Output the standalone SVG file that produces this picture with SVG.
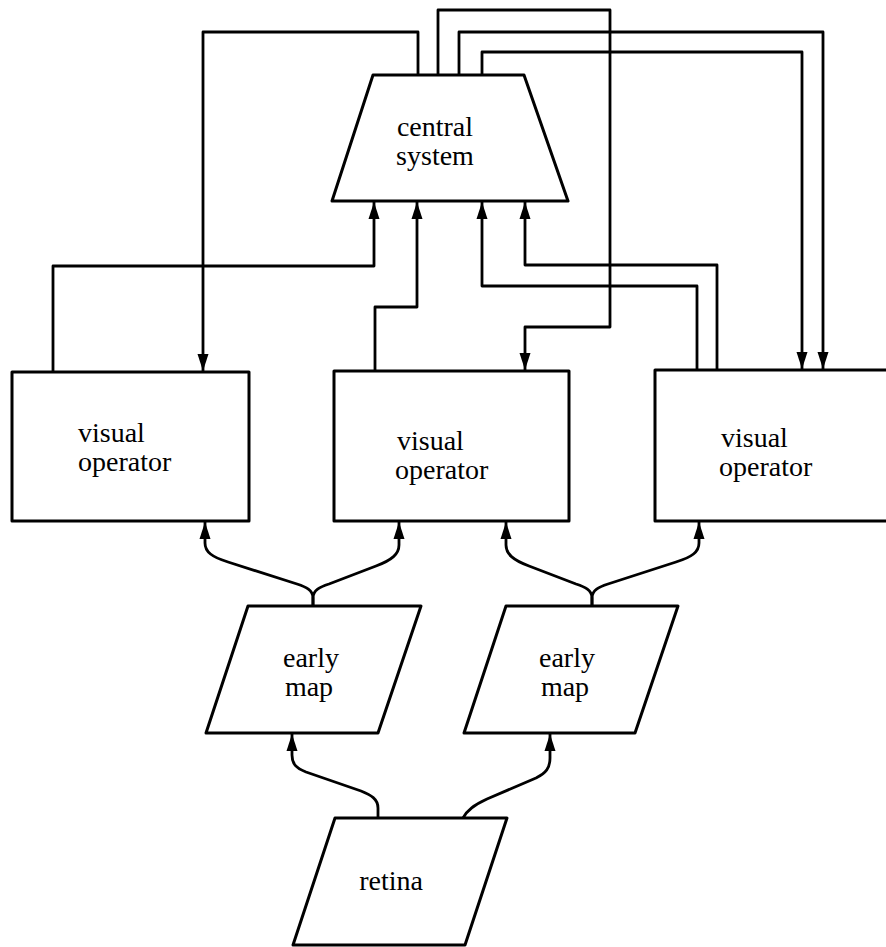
<svg xmlns="http://www.w3.org/2000/svg" width="886" height="947" viewBox="0 0 886 947">
<style>
.shape{fill:#fff;stroke:#000;stroke-width:3;stroke-linejoin:round}
.conn{fill:none;stroke:#000;stroke-width:2.8;stroke-linejoin:round;stroke-linecap:round}
.lbl{font-family:"Liberation Serif","Times New Roman",serif;font-size:28px;fill:#000}
.mid{text-anchor:middle}
</style>
<defs>
<marker id="arr" markerUnits="userSpaceOnUse" viewBox="-18 -7 19 14" markerWidth="19" markerHeight="14" refX="0" refY="0" orient="auto">
<path d="M0,0 L-17,-5.5 L-17,5.5 z" fill="#000"/>
</marker>
</defs>
<rect width="886" height="947" fill="#fff"/>

<g id="connectors">
<path class="conn" marker-end="url(#arr)" d="M418,75 V32 H203 V371"/>
<path class="conn" marker-end="url(#arr)" d="M438,75 V10 H610 V327 H525 V370"/>
<path class="conn" marker-end="url(#arr)" d="M459,75 V32 H823 V369"/>
<path class="conn" marker-end="url(#arr)" d="M482,75 V52 H802 V369"/>
<path class="conn" marker-end="url(#arr)" d="M53,372 V266 H374 V202"/>
<path class="conn" marker-end="url(#arr)" d="M375,371 V307 H417 V202"/>
<path class="conn" marker-end="url(#arr)" d="M697,370 V286 H482 V202"/>
<path class="conn" marker-end="url(#arr)" d="M717,370 V265 H525 V202"/>

<path class="conn" marker-end="url(#arr)" d="M313,606 V598 C313,590 306,587 297,584 L228,562 C212,557 205,552 205,543 V522"/>
<path class="conn" marker-end="url(#arr)" d="M313,606 V598 C313,590 320,587 329,584 L376,566 C392,560 399,554 399,545 V522"/>
<path class="conn" marker-end="url(#arr)" d="M592,606 V598 C592,590 585,587 576,584 L529,566 C513,560 506,554 506,545 V522"/>
<path class="conn" marker-end="url(#arr)" d="M592,606 V598 C592,590 599,587 608,584 L676,562 C692,557 699,552 699,543 V522"/>

<path class="conn" marker-end="url(#arr)" d="M378,818 V808 C378,799 371,795 361,791 L306,772 C296,768 292,764 292,755 V734"/>
<path class="conn" marker-end="url(#arr)" d="M463,818 C467,810 474,805 487,799 L536,778 C546,773 550,768 550,758 V734"/>
</g>

<g id="central-system">
<path class="shape" d="M373,75 H524 L568,201 H332 Z"/>
<text class="lbl mid" x="435" y="136">central</text>
<text class="lbl mid" x="435" y="165">system</text>
</g>

<g id="visual-operator-1">
<rect class="shape" x="12" y="372" width="237" height="149"/>
<text class="lbl" x="78" y="442">visual</text>
<text class="lbl" x="78" y="471">operator</text>
</g>

<g id="visual-operator-2">
<rect class="shape" x="334" y="371" width="235" height="150"/>
<text class="lbl" x="397" y="450">visual</text>
<text class="lbl" x="395" y="479">operator</text>
</g>

<g id="visual-operator-3">
<path class="shape" d="M890,370 H655 V521 H890"/>
<text class="lbl" x="721" y="447">visual</text>
<text class="lbl" x="719" y="476">operator</text>
</g>

<g id="early-map-1">
<path class="shape" d="M248,606 H421 L378,733 H206 Z"/>
<text class="lbl mid" x="311" y="667">early</text>
<text class="lbl mid" x="309" y="696">map</text>
</g>

<g id="early-map-2">
<path class="shape" d="M506,606 H678 L635,733 H464 Z"/>
<text class="lbl mid" x="567" y="667">early</text>
<text class="lbl mid" x="565" y="696">map</text>
</g>

<g id="retina">
<path class="shape" d="M335,818 H507 L465,945 H293 Z"/>
<text class="lbl mid" x="391" y="890">retina</text>
</g>
</svg>
